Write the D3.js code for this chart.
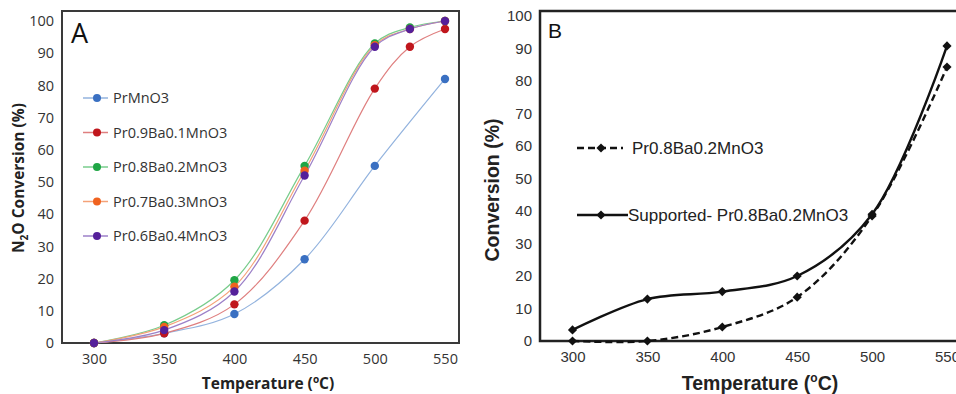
<!DOCTYPE html>
<html>
<head>
<meta charset="utf-8">
<script src="https://cdn.jsdelivr.net/npm/d3@7"></script>
<style>
  html, body { margin: 0; padding: 0; background: #fff; }
  svg { display: block; }
</style>
</head>
<body>
<svg id="chart" width="956" height="394"></svg>
<script>
// ---- Panel A: N2O conversion of the perovskite series ----
const tempsA = [300, 350, 400, 450, 500, 525, 550];
const namesA = ["PrMnO3", "Pr0.9Ba0.1MnO3", "Pr0.8Ba0.2MnO3", "Pr0.7Ba0.3MnO3", "Pr0.6Ba0.4MnO3"];
const prMnO3   = [0, 3, 9, 26, 55, null, 82];
const prBa01   = [0, 3, 12, 38, 79, 92, 97.5];
const prBa02   = [0, 5.5, 19.5, 55, 93, 98, 100];
const prBa03   = [0, 5, 17.5, 53.5, 92.5, 97.5, 100];
const prBa04   = [0, 4, 16, 52, 92, 97.5, 100];
const colorsA  = ["#3a70c2", "#c0161c", "#1fa645", "#f0621f", "#55209a"];
const lineColorsA = ["#93b3de", "#df7f7f", "#78cc8c", "#f4a278", "#9c80c8"];
const ticksX = [300, 350, 400, 450, 500, 550];
const ticksY = [0, 10, 20, 30, 40, 50, 60, 70, 80, 90, 100];

// ---- Panel B: bulk vs supported catalyst ----
const tempsB = [300, 350, 400, 450, 500, 550];
const namesB = ["Pr0.8Ba0.2MnO3", "Supported- Pr0.8Ba0.2MnO3"];
const bulkB      = [0, 0, 4.3, 13.5, 38.5, 84.3];
const supportedB = [3.4, 12.9, 15.2, 20, 39, 90.8];

const svg = d3.select("#chart");

// ================= Panel A =================
const fontA = "'Open Sans', 'Noto Sans', sans-serif";
const boxA = { left: 62, top: 11, right: 459, bottom: 343 };
const xA = d3.scaleLinear().domain([300, 550]).range([94, 445]);
const yA = d3.scaleLinear().domain([0, 100]).range([343, 21]);
const gA = svg.append("g");

gA.append("rect")
  .attr("x", boxA.left).attr("y", boxA.top)
  .attr("width", boxA.right - boxA.left).attr("height", boxA.bottom - boxA.top)
  .attr("fill", "none").attr("stroke", "#3a3a3a").attr("stroke-width", 2);

const axAy = gA.append("g").attr("transform", `translate(${boxA.left},0)`)
  .call(d3.axisLeft(yA).tickValues(ticksY).tickSize(0).tickPadding(8));
const axAx = gA.append("g").attr("transform", `translate(0,${boxA.bottom})`)
  .call(d3.axisBottom(xA).tickValues(ticksX).tickSize(0).tickPadding(11));
[axAy, axAx].forEach(a => {
  a.select(".domain").remove();
  a.selectAll("text").attr("font-family", fontA).attr("font-size", 14.5).attr("fill", "#333");
});

const seriesA = [prMnO3, prBa01, prBa02, prBa03, prBa04].map((vals, i) => ({
  name: namesA[i],
  color: colorsA[i],
  lineColor: lineColorsA[i],
  points: tempsA.map((t, j) => ({ t, v: vals[j] })).filter(p => p.v !== null)
}));

const lineA = d3.line().x(d => xA(d.t)).y(d => yA(d.v)).curve(d3.curveCatmullRom.alpha(0.5));
seriesA.forEach(s => {
  gA.append("path").datum(s.points).attr("d", lineA)
    .attr("fill", "none").attr("stroke", s.lineColor).attr("stroke-width", 1.2);
});
seriesA.forEach(s => {
  gA.selectAll(null).data(s.points).enter().append("circle")
    .attr("cx", d => xA(d.t)).attr("cy", d => yA(d.v)).attr("r", 4.2)
    .attr("fill", s.color);
});

// legend A
seriesA.forEach((s, i) => {
  const ly = 98 + i * 34.5;
  gA.append("line").attr("x1", 83).attr("x2", 108).attr("y1", ly).attr("y2", ly)
    .attr("stroke", s.lineColor).attr("stroke-width", 1.5);
  gA.append("circle").attr("cx", 97).attr("cy", ly).attr("r", 4).attr("fill", s.color);
  gA.append("text").attr("x", 113).attr("y", ly + 5)
    .attr("font-family", fontA).attr("font-size", 14.5).attr("fill", "#333").text(s.name);
});

gA.append("text").attr("x", 71).attr("y", 43)
  .attr("font-family", fontA).attr("font-size", 27).attr("fill", "#111").text("A");

// axis titles A
const tAx = gA.append("text").attr("x", 268).attr("y", 389).attr("text-anchor", "middle")
  .attr("font-family", fontA).attr("font-size", 15.5).attr("font-weight", "bold").attr("fill", "#222");
tAx.append("tspan").text("Temperature (");
tAx.append("tspan").attr("font-size", 10).attr("dy", -6).text("o");
tAx.append("tspan").attr("dy", 6).text("C)");

const tAy = gA.append("text").attr("transform", "translate(24,178) rotate(-90)").attr("text-anchor", "middle")
  .attr("font-family", fontA).attr("font-size", 15.5).attr("font-weight", "bold").attr("fill", "#222");
tAy.append("tspan").text("N");
tAy.append("tspan").attr("font-size", 10).attr("dy", 4).text("2");
tAy.append("tspan").attr("dy", -4).text("O Conversion (%)");

// ================= Panel B =================
const fontB = "'Liberation Sans', Arial, sans-serif";
const boxB = { left: 540, top: 11, right: 962, bottom: 341 };
const xB = d3.scaleLinear().domain([300, 550]).range([572.5, 947]);
const yB = d3.scaleLinear().domain([0, 100]).range([341, 16]);
const gB = svg.append("g");

gB.append("rect")
  .attr("x", boxB.left).attr("y", boxB.top)
  .attr("width", boxB.right - boxB.left).attr("height", boxB.bottom - boxB.top)
  .attr("fill", "none").attr("stroke", "#222").attr("stroke-width", 2.5);

const axBy = gB.append("g").attr("transform", `translate(${boxB.left},0)`)
  .call(d3.axisLeft(yB).tickValues(ticksY).tickSize(0).tickPadding(8));
const axBx = gB.append("g").attr("transform", `translate(0,${boxB.bottom})`)
  .call(d3.axisBottom(xB).tickValues(ticksX).tickSize(0).tickPadding(10));
[axBy, axBx].forEach(a => {
  a.select(".domain").remove();
  a.selectAll("text").attr("font-family", fontB).attr("font-size", 15).attr("fill", "#333");
});

// square marker turned 45 degrees
const diamond = d3.symbol().type(d3.symbolSquare).size(42);
const lineB = d3.line().x(d => xB(d.t)).y(d => yB(d.v)).curve(d3.curveCatmullRom.alpha(0.5));
const seriesB = [
  { name: namesB[0], dash: "7,4", points: tempsB.map((t, j) => ({ t, v: bulkB[j] })) },
  { name: namesB[1], dash: null,  points: tempsB.map((t, j) => ({ t, v: supportedB[j] })) }
];
seriesB.forEach(s => {
  gB.append("path").datum(s.points).attr("d", lineB)
    .attr("fill", "none").attr("stroke", "#111").attr("stroke-width", 2.4)
    .attr("stroke-dasharray", s.dash);
  gB.selectAll(null).data(s.points).enter().append("path")
    .attr("d", diamond).attr("transform", d => `translate(${xB(d.t)},${yB(d.v)}) rotate(45)`)
    .attr("fill", "#111");
});

// legend B
const legB = [{ y: 148, x2: 623 }, { y: 215, x2: 628 }];
seriesB.forEach((s, i) => {
  const l = legB[i];
  gB.append("line").attr("x1", 577).attr("x2", l.x2).attr("y1", l.y).attr("y2", l.y)
    .attr("stroke", "#111").attr("stroke-width", 2.4).attr("stroke-dasharray", s.dash);
  gB.append("path").attr("d", diamond).attr("transform", `translate(601,${l.y}) rotate(45)`).attr("fill", "#111");
  gB.append("text").attr("x", i === 0 ? 632 : 628).attr("y", l.y + 6)
    .attr("font-family", fontB).attr("font-size", 17).attr("fill", "#222").text(s.name);
});

gB.append("text").attr("x", 548).attr("y", 38)
  .attr("font-family", fontB).attr("font-size", 21).attr("fill", "#111").text("B");

const tBx = gB.append("text").attr("x", 760).attr("y", 390).attr("text-anchor", "middle")
  .attr("font-family", fontB).attr("font-size", 19.5).attr("font-weight", "bold").attr("fill", "#222");
tBx.append("tspan").text("Temperature (");
tBx.append("tspan").attr("font-size", 12).attr("dy", -8).text("o");
tBx.append("tspan").attr("dy", 8).text("C)");

gB.append("text").attr("transform", "translate(499,190) rotate(-90)").attr("text-anchor", "middle")
  .attr("font-family", fontB).attr("font-size", 19.5).attr("font-weight", "bold").attr("fill", "#222")
  .text("Conversion (%)");
</script>
</body>
</html>
